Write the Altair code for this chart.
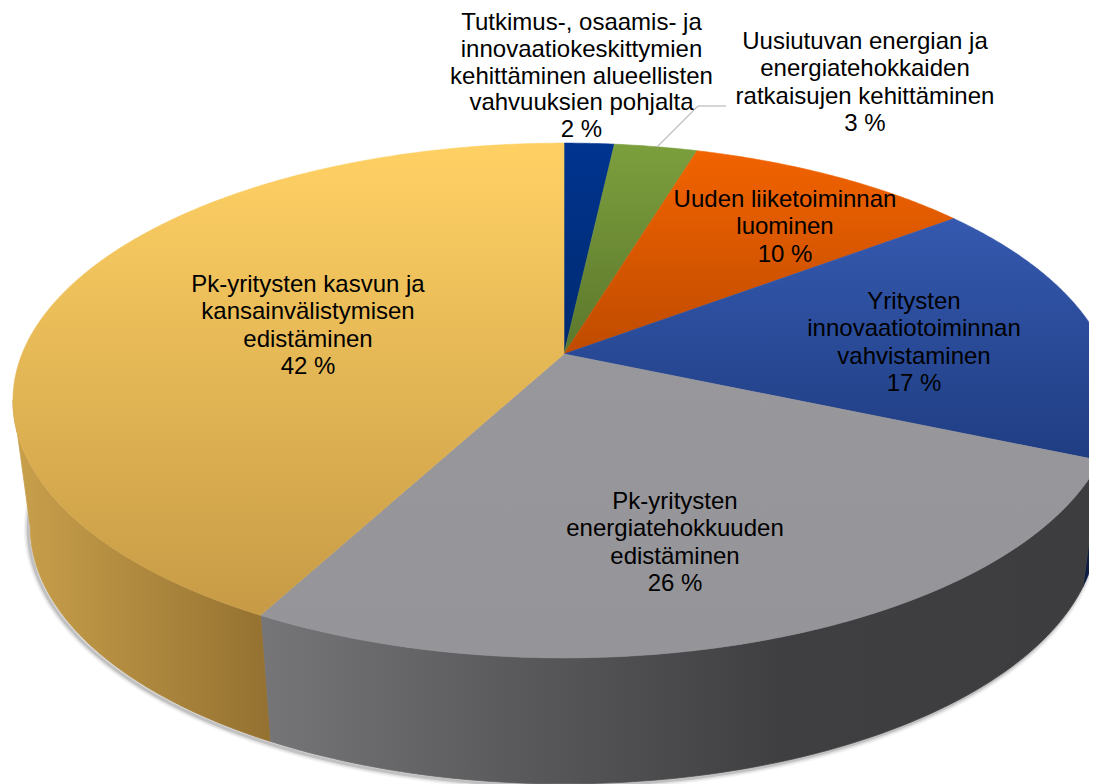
import numpy as np
import pandas as pd
import altair as alt

# Chart values
categories = [
    "Tutkimus-, osaamis- ja\ninnovaatiokeskittymien\nkehittäminen alueellisten\nvahvuuksien pohjalta\n2 %",
    "Uusiutuvan energian ja\nenergiatehokkaiden\nratkaisujen kehittäminen\n3 %",
    "Uuden liiketoiminnan\nluominen\n10 %",
    "Yritysten\ninnovaatiotoiminnan\nvahvistaminen\n17 %",
    "Pk-yritysten\nenergiatehokkuuden\nedistäminen\n26 %",
    "Pk-yritysten kasvun ja\nkansainvälistymisen\nedistäminen\n42 %",
]
shares = [1.75, 2.9, 10.05, 16.8, 26.3, 42.2]
top_colors = [
    ("#00348F", "#002A70"),
    ("#7C9F3D", "#5C772C"),
    ("#F26300", "#BF4B00"),
    ("#3559AF", "#1F3D82"),
    ("#98979C", "#959499"),
    ("#FFD164", "#C79B46"),
]

W, H = 1089, 784
M = 8
K = 0.1806
TOP = dict(cx=564, cy=354, r=542, b=249)
LOW = dict(cx=564, cy=480, r=525, b=249)
SIL_L = np.degrees(2 * np.pi) - np.degrees(np.arccos(-K))
SIL_R = np.degrees(np.arccos(-K))


def rim(theta_deg, d):
    t = np.radians(np.asarray(theta_deg, dtype=float))
    den = 1 + K * np.cos(t)
    return d["cx"] + d["r"] * np.sin(t) / den, d["cy"] - d["b"] * np.cos(t) / den


def grad_v(c0, c1):
    return {"gradient": "linear", "x1": 0, "y1": 0, "x2": 0, "y2": 1,
            "stops": [{"offset": 0, "color": c0}, {"offset": 1, "color": c1}]}


def grad_h(stops):
    return {"gradient": "linear", "x1": 0, "y1": 0, "x2": 1, "y2": 0,
            "stops": [{"offset": o, "color": c} for o, c in stops]}


x_scale = alt.Scale(domain=[M, W], range=[0, W - M], nice=False, zero=False)
y_scale = alt.Scale(domain=[M, H], range=[0, H - M], nice=False, zero=False)


def poly(xs, ys, fill, stroke_width=0.8):
    df = pd.DataFrame({"x": xs, "y": ys, "i": range(len(xs))})
    return alt.Chart(df).mark_line(fill=fill, stroke=fill, strokeWidth=stroke_width, clip=True).encode(
        x=alt.X("x:Q", scale=x_scale, axis=None),
        y=alt.Y("y:Q", scale=y_scale, axis=None),
        order="i:Q",
    )


def curve(xs, ys, color, width, opacity):
    df = pd.DataFrame({"x": xs, "y": ys, "i": range(len(xs))})
    return alt.Chart(df).mark_line(stroke=color, strokeWidth=width, opacity=opacity, clip=True).encode(
        x=alt.X("x:Q", scale=x_scale, axis=None),
        y=alt.Y("y:Q", scale=y_scale, axis=None),
        order="i:Q",
    )


edges = np.concatenate([[0], np.cumsum(shares)]) / sum(shares) * 360
layers = []

# soft shadow under the rim
sh = np.linspace(edges[4] - 8, SIL_L + 12, 120)
sx, sy = rim(sh, LOW)
for w, o in [(9, 0.08), (6, 0.14), (3, 0.28)]:
    layers.append(curve(sx - 2, sy + 2, "#707070", w, o))


def wall(a0, a1, fill):
    th = np.linspace(a0, a1, 80)
    x0, y0 = rim(th, TOP)
    x1, y1 = rim(th[::-1], LOW)
    xs = np.concatenate([x0, x1, x0[:1]])
    ys = np.concatenate([y0, y1, y0[:1]])
    return poly(xs, ys, fill)


layers.append(wall(SIL_R, edges[4], "#0E1D44"))
layers.append(wall(edges[4], edges[5], grad_h([(0, "#767679"), (0.3, "#5A5A5C"), (0.62, "#3F3F41"), (1, "#3D3D3F")])))
layers.append(wall(edges[5], SIL_L, grad_h([(0, "#C9A04B"), (1, "#947131")])))

for i, (c0, c1) in enumerate(top_colors):
    th = np.linspace(edges[i], edges[i + 1], max(8, int(shares[i] * 8)))
    x, y = rim(th, TOP)
    xs = np.concatenate([[TOP["cx"]], x, [TOP["cx"]]])
    ys = np.concatenate([[TOP["cy"]], y, [TOP["cy"]]])
    layers.append(poly(xs, ys, grad_v(c0, c1), stroke_width=0.6))

# leader line
leader = pd.DataFrame({"k": [0]})
layers.append(alt.Chart(leader).mark_rule(stroke="#BFBFBF", strokeWidth=1.3).encode(
    x=alt.value(657 - M), x2=alt.value(698 - M), y=alt.value(147 - M), y2=alt.value(106 - M)))
layers.append(alt.Chart(leader).mark_rule(stroke="#BFBFBF", strokeWidth=1.3).encode(
    x=alt.value(698 - M), x2=alt.value(726 - M), y=alt.value(106 - M), y2=alt.value(106 - M)))

# labels: centre x, centre y of the first line, line spacing
anchors = [(581.5, 23, 26.8), (865, 42, 27.4), (785, 200, 27.4), (914, 302, 27.4), (675, 502, 27.4), (308, 285, 27.4)]
for text, (ax, ay, lh) in zip(categories, anchors):
    layers.append(alt.Chart(pd.DataFrame({"t": [text]})).mark_text(
        font="Liberation Sans", fontSize=24, lineBreak="\n", lineHeight=lh,
        align="center", baseline="top", color="#000000",
    ).encode(text="t:N", x=alt.value(ax - M), y=alt.value(ay - M - 12)))

chart = alt.layer(*layers).properties(width=W - M, height=H - M, padding=0).configure_view(stroke=None)
chart.save("out.html", embed_options={"renderer": "svg", "actions": False})
